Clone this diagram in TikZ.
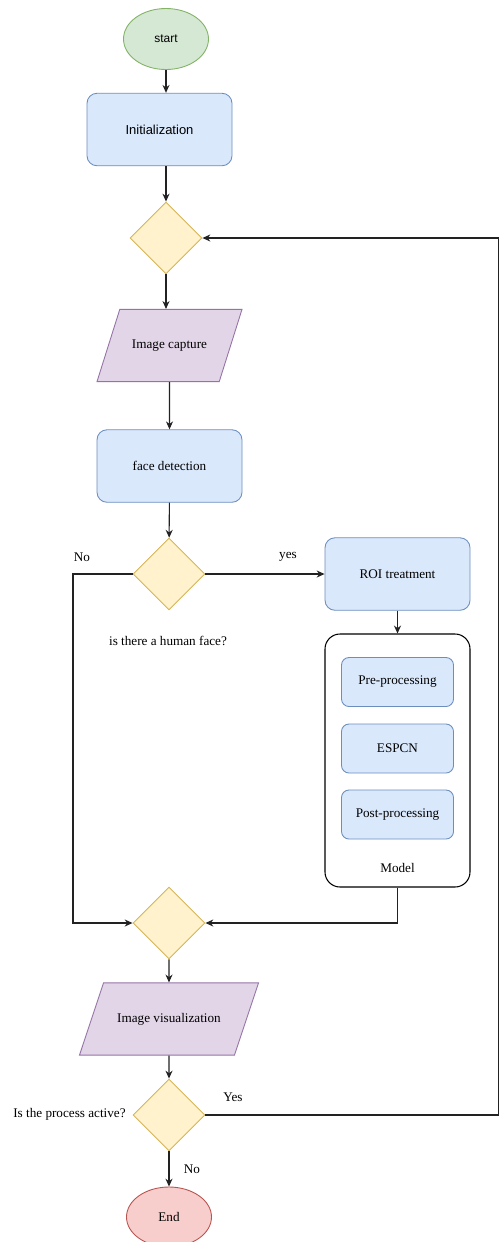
\documentclass[tikz,border=0pt]{standalone}
\usepackage{fontspec}
\setmainfont{Liberation Serif}
\newfontfamily\arialfont{Liberation Sans}
\usepackage{tikz}
\usetikzlibrary{positioning,arrows.meta,shapes.geometric}
\definecolor{grnfill}{HTML}{D5E8D4}\definecolor{grnline}{HTML}{82B366}
\definecolor{blufill}{HTML}{DAE8FC}\definecolor{bluline}{HTML}{6C8EBF}
\definecolor{ylwfill}{HTML}{FFF2CC}\definecolor{ylwline}{HTML}{D6B656}
\definecolor{prpfill}{HTML}{E1D5E7}\definecolor{prpline}{HTML}{9673A6}
\definecolor{redfill}{HTML}{F8CECC}\definecolor{redline}{HTML}{B85450}
\definecolor{flowgray}{HTML}{222222}
\tikzset{
  term/.style={ellipse,draw,line width=0.5pt,minimum width=1.7cm,minimum height=1.22cm,inner sep=0pt},
  proc/.style={draw=bluline,fill=blufill,line width=0.5pt,rounded corners=0.2cm,
            minimum width=2.9cm,minimum height=1.45cm,align=center},
  inbox/.style={proc,rounded corners=0.15cm,minimum width=2.24cm,minimum height=0.98cm},
  decis/.style={diamond,draw=ylwline,fill=ylwfill,line width=0.5pt,
            minimum width=1.44cm,minimum height=1.44cm,inner sep=0pt},
  iobox/.style={trapezium,trapezium stretches body=true,draw=prpline,fill=prpfill,
            line width=0.5pt,text height=5.2pt,text depth=1.5pt,inner ysep=17.2pt},
  modelbox/.style={draw=black,fill=white,line width=0.6pt,rounded corners=0.3cm,
            minimum width=2.9cm,minimum height=5.06cm},
  flow/.style={-{Stealth[length=4.5pt,width=4pt]},line width=0.6pt,flowgray},
  lbl/.style={inner sep=0pt},
}
\begin{document}
\begin{tikzpicture}[every node/.style={font=\fontsize{7.5}{9}\selectfont},node distance=1cm,on grid]
  \useasboundingbox (0,0) rectangle (10,-24.84);
  \coordinate (rt) at (9.97,0);
  \coordinate (lft) at (1.46,0);
  \node[term,draw=grnline,fill=grnfill,font=\arialfont\fontsize{6.8}{8}\selectfont] (start) at (3.32,-0.78) {start};
  \node[proc,font=\arialfont\fontsize{7.4}{9}\selectfont,below=1.81cm of start,xshift=-0.13cm] (init) {Initialization};
  \node[decis,below=2.17cm of init,xshift=0.13cm] (dec1) {};
  \node[iobox,trapezium left angle=72.5,trapezium right angle=107.5,minimum width=2.9cm,
        below=2.15cm of dec1,xshift=0.07cm] (cap) {Image capture};
  \node[proc,below=2.41cm of cap] (face) {face detection};
  \node[decis,below=2.16cm of face,xshift=-0.01cm] (dec2) {};
  \node[proc,right=4.57cm of dec2] (roi) {ROI treatment};
  % model block
  \node[modelbox,below=3.73cm of roi] (model) {};
  \node[inbox,above=1.57cm of model] (pre) {Pre-processing};
  \node[inbox,below=1.33cm of pre] (espcn) {ESPCN};
  \node[inbox,below=1.32cm of espcn] (post) {Post-processing};
  \node[lbl,below=1.07cm of post] (mlab) {Model};
  \node[decis,below=6.98cm of dec2] (dec3) {};
  \node[iobox,trapezium left angle=71.6,trapezium right angle=108.4,minimum width=3.58cm,
        below=1.92cm of dec3] (vis) {Image visualization};
  \node[decis,below=1.92cm of vis] (dec4) {};
  \node[term,draw=redline,fill=redfill,minimum height=1.2cm,below=2.04cm of dec4] (end) {End};
  % labels
  \node[lbl] (lno) at (1.64,-11.14) {No};
  \node[lbl] (lyes) at (5.76,-11.14) {yes};
  \node[lbl] (qface) at (3.36,-12.82) {is there a human face?};
  \node[lbl,anchor=east] (qact) at (2.52,-22.28) {Is the process active?};
  \node[lbl] (lyes2) at (4.66,-21.94) {Yes};
  \node[lbl] (lno2) at (3.84,-23.38) {No};
  \draw[flow] (start.south) -- (start.south |- init.north);
  \draw[flow] (init.south -| dec1.north) -- (dec1.north);
  \draw[flow] (dec1.south) -- (dec1.south |- cap.north);
  \draw[flow] (cap) -- (face);
  \draw[flow] (face) -- (dec2);
  \draw[flow] (dec2) -- (roi);
  \draw[flow] (roi) -- (model);
  \draw[flow] (dec2.west) -- (dec2.west -| lft) |- (dec3.west);
  \draw[flow] (model.south) |- (dec3.east);
  \draw[flow] (dec3) -- (vis);
  \draw[flow] (vis) -- (dec4);
  \draw[flow] (dec4) -- (end);
  \draw[flow] (dec4.east) -- (dec4.east -| rt) |- (dec1.east);
\end{tikzpicture}
\end{document}
